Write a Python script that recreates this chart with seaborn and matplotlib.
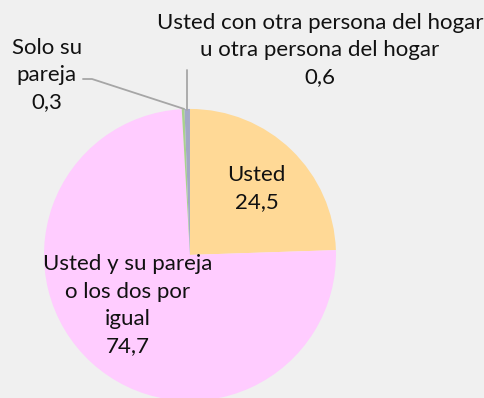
import matplotlib
matplotlib.use("Agg")
import matplotlib.pyplot as plt
import seaborn as sns

# Who in the household takes the decision (%)
categories = [
    "Usted",
    "Usted y su pareja\no los dos por\nigual",
    "Solo su\npareja",
    "Usted con otra persona del hogar\nu otra persona del hogar",
]
values = [24.5, 74.7, 0.3, 0.6]
value_labels = ["24,5", "74,7", "0,3", "0,6"]
colors = ["#FFD996", "#FFCCFF", "#A9D18E", "#A3A9C6"]

sns.set_style("white")
plt.rcParams["font.family"] = ["Lato", "DejaVu Sans"]

bg = "#F0F0F0"
fig = plt.figure(figsize=(4.85, 3.98), dpi=100, facecolor=bg)
ax = fig.add_axes([0.0907, -0.0075, 0.602, 0.734])
ax.set_facecolor(bg)

wedges, _ = ax.pie(
    values,
    colors=sns.color_palette(colors),
    startangle=90,
    counterclock=False,
    radius=1.0,
    wedgeprops=dict(linewidth=0),
)
ax.set_xlim(-1, 1)
ax.set_ylim(-1, 1)
ax.axis("off")

fs = 16
txt = dict(ha="center", va="center", fontsize=fs, color="#111111",
           linespacing=1.45, clip_on=False)

# labels inside the two large slices
ax.text(0.455, 0.455, f"{categories[0]}\n{value_labels[0]}", **txt)
ax.text(-0.425, -0.345, f"{categories[1]}\n{value_labels[1]}", **txt)

# labels for the two thin slices, with leader lines
ax.text(-0.98, 1.233, f"{categories[2]}\n{value_labels[2]}", **txt)
ax.text(0.89, 1.404, f"{categories[3]}\n{value_labels[3]}", **txt)

line = dict(color="#A6A6A6", linewidth=1.3, clip_on=False)
ax.plot([-0.733, -0.671, -0.04], [1.205, 1.205, 1.0], **line)
ax.plot([-0.02, -0.02], [1.267, 0.995], **line)

fig.savefig("out.png", dpi=100, facecolor=bg)
